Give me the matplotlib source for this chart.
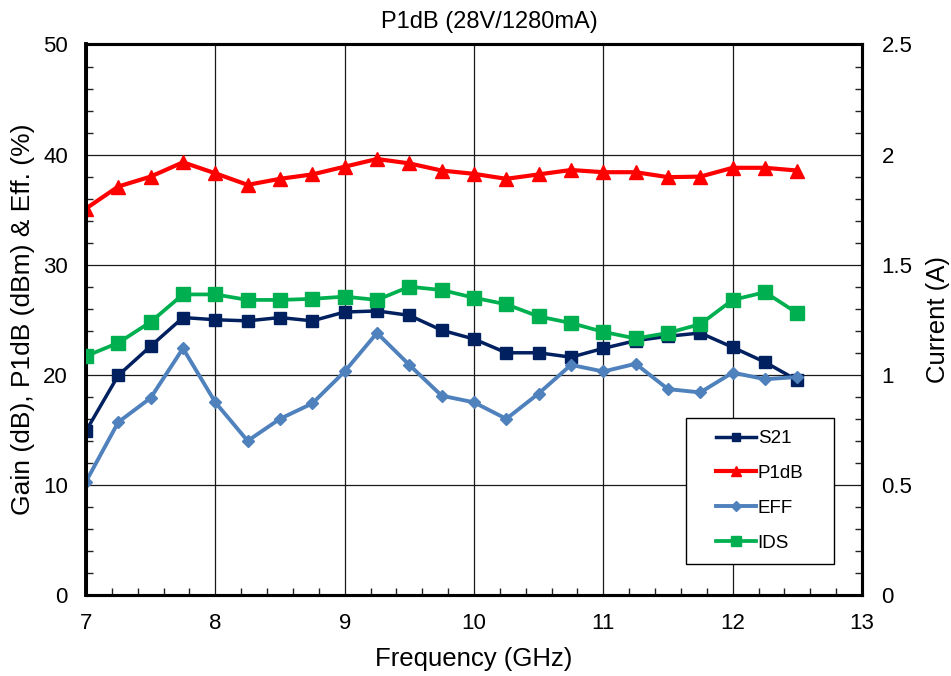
import matplotlib
matplotlib.use("Agg")
import matplotlib.pyplot as plt
from matplotlib.ticker import MultipleLocator
from matplotlib.patches import Rectangle

plt.rcParams['font.family'] = ['Liberation Sans', 'DejaVu Sans']

freq = [7.0, 7.25, 7.5, 7.75, 8.0, 8.25, 8.5, 8.75, 9.0, 9.25, 9.5, 9.75,
        10.0, 10.25, 10.5, 10.75, 11.0, 11.25, 11.5, 11.75, 12.0, 12.25, 12.5]
s21 = [14.9, 19.95, 22.6, 25.2, 25.0, 24.9, 25.2, 24.9, 25.7, 25.8, 25.4, 24.05,
       23.25, 22.0, 22.0, 21.6, 22.4, 23.1, 23.5, 23.8, 22.5, 21.15, 19.5]
p1db = [35.1, 37.1, 38.0, 39.3, 38.3, 37.25, 37.8, 38.2, 38.9, 39.6, 39.2, 38.55,
        38.25, 37.8, 38.2, 38.6, 38.4, 38.4, 37.95, 38.0, 38.8, 38.8, 38.55]
eff = [10.3, 15.7, 17.9, 22.4, 17.5, 14.0, 16.0, 17.4, 20.3, 23.8, 20.9, 18.1,
       17.5, 16.0, 18.3, 20.9, 20.3, 21.0, 18.7, 18.4, 20.2, 19.6, 19.8]
ids = [1.085, 1.145, 1.24, 1.365, 1.365, 1.34, 1.34, 1.345, 1.355, 1.34, 1.40, 1.385,
       1.35, 1.32, 1.265, 1.235, 1.195, 1.165, 1.19, 1.23, 1.34, 1.375, 1.28]

x_ticks = [7, 8, 9, 10, 11, 12, 13]
left_ticks = [0, 10, 20, 30, 40, 50]
right_ticks = [0, 0.5, 1, 1.5, 2, 2.5]
right_labels = ["0", "0.5", "1", "1.5", "2", "2.5"]

fig = plt.figure(figsize=(9.51, 6.76), dpi=100)
ax = fig.add_axes([0.0904, 0.1198, 0.816, 0.8144])
ax2 = ax.twinx()

c_s21 = '#002060'
c_p1 = '#FF0000'
c_eff = '#4F81BD'
c_ids = '#00B050'

l1, = ax.plot(freq, s21, color=c_s21, lw=2.5, marker='s', ms=8.5, label='S21', zorder=5)
l2, = ax.plot(freq, p1db, color=c_p1, lw=3.0, marker='^', ms=10, label='P1dB', zorder=5)
l3, = ax.plot(freq, eff, color=c_eff, lw=2.8, marker='D', ms=6.5, label='EFF', zorder=5)
l4, = ax2.plot(freq, ids, color=c_ids, lw=2.7, marker='s', ms=9.5, label='IDS', zorder=5)

ax.set_xlim(7, 13)
ax.set_ylim(0, 50)
ax2.set_ylim(0, 2.5)

ax.set_xticks(x_ticks)
ax.set_xticklabels([str(v) for v in x_ticks])
ax.set_yticks(left_ticks)
ax.set_yticklabels([str(v) for v in left_ticks])
ax2.set_yticks(right_ticks)
ax2.set_yticklabels(right_labels)

ax.xaxis.set_minor_locator(MultipleLocator(0.2))
ax.yaxis.set_minor_locator(MultipleLocator(2))
ax2.yaxis.set_minor_locator(MultipleLocator(0.1))

ax.grid(True, which='major', color='#1a1a1a', lw=0.9)
ax.set_axisbelow(True)

ax.tick_params(axis='both', which='major', length=0, labelsize=16, pad=13)
ax.tick_params(axis='both', which='minor', direction='in', length=5, width=1, color='#222')
ax2.tick_params(axis='y', which='major', length=0, labelsize=16, pad=14)
ax2.tick_params(axis='y', which='minor', direction='in', length=5, width=1, color='#222')

for a in (ax, ax2):
    for s in a.spines.values():
        s.set_linewidth(2.2)
        s.set_color('black')
ax.spines['left'].set_linewidth(2.8)

ax.set_xlabel('Frequency (GHz)', fontsize=18.5, labelpad=9)
ax.set_ylabel('Gain (dB), P1dB (dBm) & Eff. (%)', fontsize=19, labelpad=6)
ax2.set_ylabel('Current (A)', fontsize=18.5, labelpad=10)
ax.set_title('P1dB (28V/1280mA)', fontsize=17, pad=12, x=0.52)

# legend frame
rect = Rectangle((0.773, 0.0563), 0.191, 0.2652, transform=ax.transAxes,
                 facecolor='white', edgecolor='black', lw=1.0, zorder=8)
ax2.add_patch(rect)
leg = ax2.legend(handles=[l1, l2, l3, l4], loc='center', bbox_to_anchor=(0.8685, 0.189),
                 bbox_transform=ax.transAxes, frameon=False, fontsize=13.5,
                 handlelength=2.1, handletextpad=0.1, labelspacing=0.95,
                 markerscale=0.75)
leg.set_zorder(9)

fig.savefig('out.png', dpi=100)
